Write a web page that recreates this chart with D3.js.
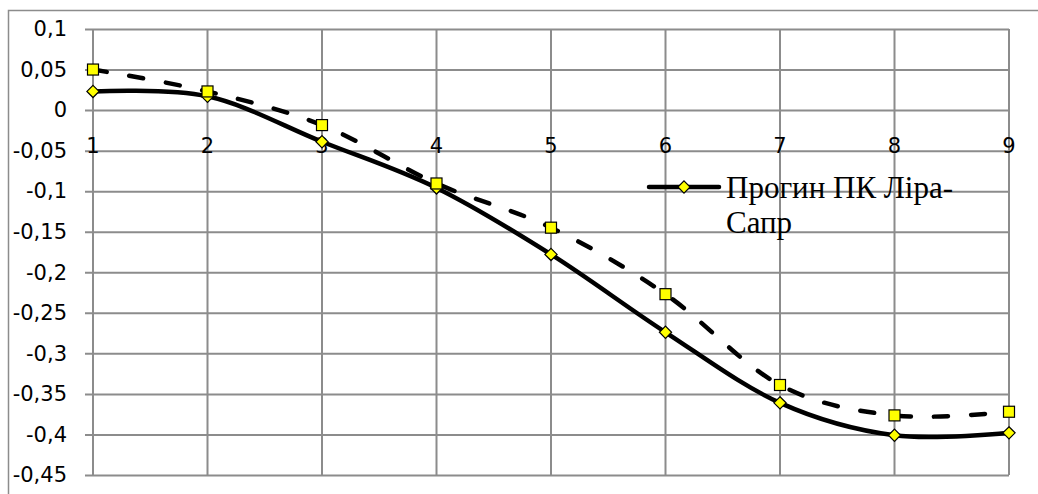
<!DOCTYPE html>
<html>
<head>
<meta charset="utf-8">
<script src="https://cdn.jsdelivr.net/npm/d3@7"></script>
<style>
  html, body { margin: 0; padding: 0; background: #fff; }
  svg { display: block; }
</style>
</head>
<body>
<svg id="chart" width="1038" height="494"></svg>
<script>
// Node numbers along the beam
const nodes = [1, 2, 3, 4, 5, 6, 7, 8, 9];
// Deflection, ПК Ліра-Сапр (solid line, diamonds)
const liraSapr = [0.023, 0.017, -0.039, -0.096, -0.178, -0.274, -0.361, -0.401, -0.398];
// Second deflection series (dashed line, squares)
const secondSeries = [0.05, 0.023, -0.0185, -0.0905, -0.145, -0.227, -0.339, -0.3765, -0.372];
// Vertical axis ticks
const yTicks = [0.1, 0.05, 0, -0.05, -0.1, -0.15, -0.2, -0.25, -0.3, -0.35, -0.4, -0.45];
const legendLines = ["Прогин ПК Ліра-", "Сапр"];

const svg = d3.select("#chart");
const gridColor = "#8c8c8c";

// Outer chart frame
svg.append("rect")
  .attr("x", 8.5).attr("y", 10.5)
  .attr("width", 1040).attr("height", 500)
  .attr("fill", "none").attr("stroke", gridColor).attr("stroke-width", 1.5);

const x = d3.scaleLinear().domain([1, 9]).range([93, 1009]);
const y = d3.scaleLinear().domain([-0.45, 0.1]).range([475, 29]);

const fmt = v => (v === 0 ? "0" : String(+v.toFixed(2)).replace(".", ","));

// Horizontal gridlines with left tick marks and labels
const yAxis = d3.axisLeft(y).tickValues(yTicks).tickFormat(fmt)
  .tickSize(x(9) - x(1) + 8).tickPadding(18);
const gy = svg.append("g").attr("transform", `translate(${x(9)},0)`).call(yAxis);
gy.select(".domain").remove();
gy.selectAll(".tick line").attr("stroke", gridColor).attr("stroke-width", 2);
gy.selectAll(".tick text")
  .attr("font-family", "DejaVu Sans").attr("font-size", 21).attr("fill", "#000");

// Vertical gridlines
svg.append("g").selectAll("line").data(nodes).join("line")
  .attr("x1", d => x(d)).attr("x2", d => x(d))
  .attr("y1", y(0.1)).attr("y2", y(-0.45))
  .attr("stroke", gridColor).attr("stroke-width", 2);

// Horizontal category labels placed under the zero line
svg.append("g").selectAll("text").data(nodes).join("text")
  .attr("x", d => x(d)).attr("y", y(0) + 43)
  .attr("text-anchor", "middle")
  .attr("font-family", "DejaVu Sans").attr("font-size", 21).attr("fill", "#000")
  .text(d => d);

const curve = d3.curveCardinal.tension(0);
const line = d3.line().x((d, i) => x(nodes[i])).y(d => y(d)).curve(curve);

// Series lines
svg.append("path").datum(liraSapr)
  .attr("d", line).attr("fill", "none")
  .attr("stroke", "#000").attr("stroke-width", 4.5);
svg.append("path").datum(secondSeries)
  .attr("d", line).attr("fill", "none")
  .attr("stroke", "#000").attr("stroke-width", 4.5)
  .attr("stroke-dasharray", "14 23").attr("stroke-linecap", "round");

// Markers
const diamond = d3.symbol().type(d3.symbolDiamond2).size(95);
svg.append("g").selectAll("path").data(liraSapr).join("path")
  .attr("d", diamond)
  .attr("transform", (d, i) => `translate(${x(nodes[i])},${y(d)})`)
  .attr("fill", "#ffff00").attr("stroke", "#000").attr("stroke-width", 1.2);
svg.append("g").selectAll("rect").data(secondSeries).join("rect")
  .attr("x", (d, i) => x(nodes[i]) - 5.5).attr("y", d => y(d) - 5.5)
  .attr("width", 11).attr("height", 11)
  .attr("fill", "#ffff00").attr("stroke", "#000").attr("stroke-width", 1.2);

// Legend
const lg = svg.append("g").attr("transform", "translate(649,187)");
lg.append("line").attr("x1", 0).attr("x2", 70).attr("y1", 0).attr("y2", 0)
  .attr("stroke", "#000").attr("stroke-width", 4.5).attr("stroke-linecap", "round");
lg.append("path").attr("d", diamond).attr("transform", "translate(35,0)")
  .attr("fill", "#ffff00").attr("stroke", "#000").attr("stroke-width", 1.2);
lg.append("g").selectAll("text").data(legendLines).join("text")
  .attr("x", 77).attr("y", (d, i) => 11 + i * 35)
  .attr("font-family", "Liberation Serif").attr("font-size", 31).attr("fill", "#000")
  .text(d => d);
</script>
</body>
</html>
